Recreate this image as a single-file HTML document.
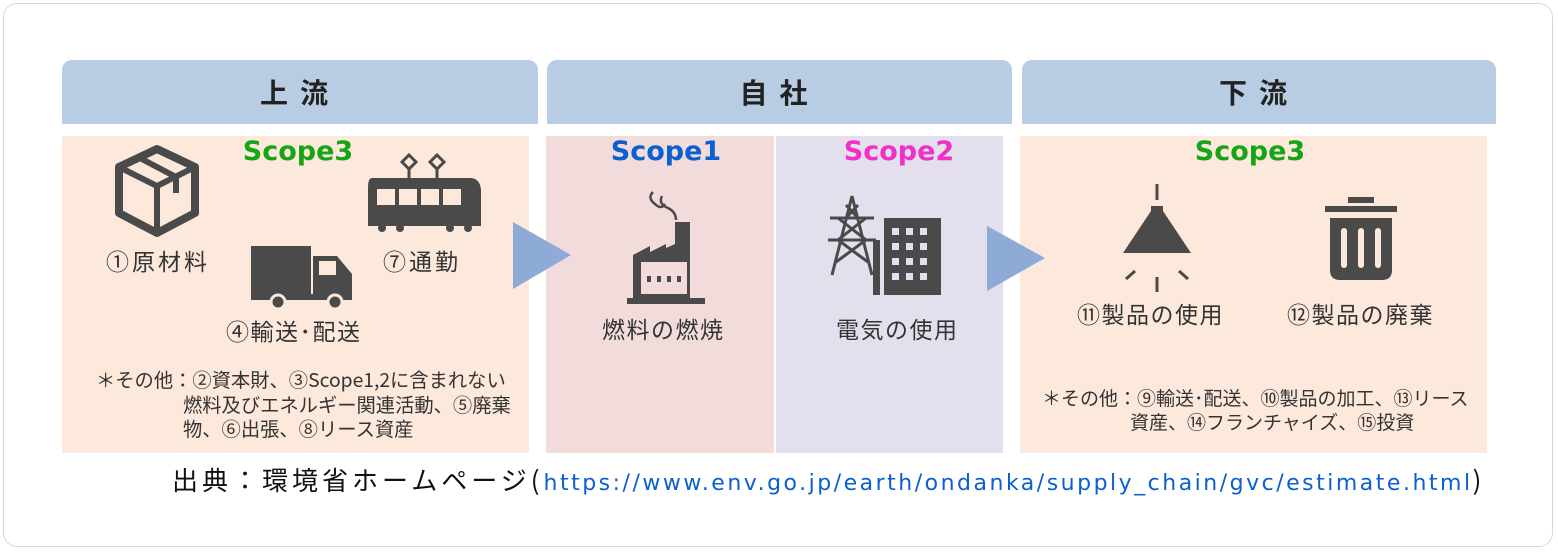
<!DOCTYPE html>
<html><head><meta charset="utf-8"><style>
body{margin:0;width:1558px;height:552px;background:#fff;position:relative;overflow:hidden;font-family:"Liberation Sans","Noto Sans CJK JP",sans-serif;}
.a{position:absolute}
.frame{left:3px;top:3px;width:1550px;height:544px;border:1px solid #d8d8d8;border-radius:14px;box-sizing:border-box}
.hd{background:#b8cce4;border-radius:10px 10px 0 0;font-size:28px;font-weight:bold;color:#222;text-align:center;line-height:64px;letter-spacing:12px;top:60px;height:64px;font-family:"Noto Sans CJK JP",sans-serif}
.sc{font-size:27px;font-weight:bold;text-align:center;font-family:"DejaVu Sans","Liberation Sans",sans-serif}
.lb{font-size:23px;letter-spacing:3px;color:#333;font-family:"Noto Sans CJK JP",sans-serif;white-space:nowrap}
.nt{font-size:19.3px;color:#333;font-family:"Noto Sans CJK JP",sans-serif;line-height:24px;white-space:nowrap}
</style></head><body>
<div class="a frame"></div>
<div class="a hd" style="left:62px;width:476px">上流</div>
<div class="a hd" style="left:547px;width:465px">自社</div>
<div class="a hd" style="left:1022px;width:474px">下流</div>

<div class="a" style="left:62px;top:136px;width:467px;height:317px;background:#fde9db"></div>
<div class="a" style="left:546px;top:136px;width:228px;height:317px;background:#f2dcdb"></div>
<div class="a" style="left:776px;top:136px;width:227px;height:317px;background:#e4dfec"></div>
<div class="a" style="left:1020px;top:136px;width:467px;height:317px;background:#fde9db"></div>

<svg class="a" style="left:0;top:0" width="1558" height="552">
<polygon points="513,222 513,289 571,255" fill="#8eaad6"/>
<polygon points="987,226 987,291 1045,258" fill="#8eaad6"/>
<g fill="#4a4a4a" stroke="#4a4a4a">
<polygon points="157,149 195,167 195,213 157,233 119,213 119,167" fill="none" stroke-width="8" stroke-linejoin="round"/>
<polyline points="119,167 157,186 195,167" fill="none" stroke-width="6"/>
<line x1="157" y1="186" x2="157" y2="233" stroke-width="6"/>
<polyline points="138,157 176,177 176,193" fill="none" stroke-width="6"/>
<path d="M372,178 H470 q10,0 11,12 V226 H368 V188 q0,-10 4,-10 Z" stroke="none"/>
<rect x="377" y="189" width="18" height="16" fill="#fde9db" stroke="none"/><rect x="399" y="189" width="18" height="16" fill="#fde9db" stroke="none"/><rect x="421" y="189" width="18" height="16" fill="#fde9db" stroke="none"/><rect x="443" y="189" width="18" height="16" fill="#fde9db" stroke="none"/>
<circle cx="382" cy="228" r="4" stroke="none"/><circle cx="400" cy="228" r="4" stroke="none"/><circle cx="450" cy="228" r="4" stroke="none"/><circle cx="468" cy="228" r="4" stroke="none"/>
<polygon points="409,155 416,162 409,169 402,162" fill="none" stroke-width="3"/><polygon points="437,155 444,162 437,169 430,162" fill="none" stroke-width="3"/>
<line x1="409" y1="169" x2="409" y2="178" stroke-width="3"/><line x1="437" y1="169" x2="437" y2="178" stroke-width="3"/>
<rect x="251" y="246" width="60" height="48" stroke="none"/>
<path d="M313,256 H337 L352,274 V298 H313 Z" stroke="none"/>
<rect x="319" y="261" width="17" height="14" fill="#fde9db" stroke="none"/>
<rect x="251" y="294" width="101" height="6" stroke="none"/>
<circle cx="278" cy="302" r="7" stroke="#fde9db" stroke-width="3"/><circle cx="335" cy="302" r="7" stroke="#fde9db" stroke-width="3"/>
<path d="M633,300 V255 L650,246 V252 L666,244 V248 L675,244 V222 H690 V300 Z" stroke="none"/>
<rect x="641" y="262" width="46" height="32" fill="#f2dcdb" stroke="none"/>
<g fill="#4a4a4a" stroke="none"><rect x="647" y="276" width="4" height="6"/><rect x="657" y="276" width="4" height="6"/><rect x="667" y="276" width="4" height="6"/><rect x="677" y="276" width="4" height="6"/></g>
<rect x="627" y="298" width="78" height="6" stroke="none"/>
<path d="M653,192 q-6,6 2,12 q6,6 10,0 M662,196 q-4,8 6,12 q8,4 8,12" fill="none" stroke-width="2.5"/>
<path d="M852,196 L832,275 M852,196 L872,275 M830,218 H874 M828,240 H876 M838,218 L866,240 L836,262 M866,218 L838,240 L868,262 M846,205 L858,218 M858,205 L846,218" fill="none" stroke-width="3"/>
<rect x="873" y="240" width="7" height="55" stroke="none"/>
<rect x="884" y="218" width="57" height="77" stroke="none"/>
<g fill="#e4dfec" stroke="none">
<rect x="892" y="228" width="7" height="7"/><rect x="906" y="228" width="7" height="7"/><rect x="920" y="228" width="7" height="7"/>
<rect x="892" y="243" width="7" height="7"/><rect x="906" y="243" width="7" height="7"/><rect x="920" y="243" width="7" height="7"/>
<rect x="892" y="258" width="7" height="7"/><rect x="906" y="258" width="7" height="7"/><rect x="920" y="258" width="7" height="7"/>
<rect x="892" y="273" width="7" height="7"/><rect x="906" y="273" width="7" height="7"/><rect x="920" y="273" width="7" height="7"/>
</g>
<line x1="1157" y1="184" x2="1157" y2="200" stroke-width="3"/>
<path d="M1151,211 H1163 L1191,253 H1123 Z" stroke="none"/>
<rect x="1151" y="206" width="12" height="8" stroke="none"/>
<path d="M1135,271 L1126,279 M1179,271 L1188,279 M1157,277 V292" stroke-width="3"/>
<rect x="1325" y="206" width="72" height="6" stroke="none"/>
<rect x="1348" y="197" width="26" height="6" stroke="none"/>
<path d="M1330,218 H1392 V270 q0,10 -10,10 H1340 q-10,0 -10,-10 Z" stroke="none"/>
<g fill="#fde9db" stroke="none"><rect x="1341" y="228" width="6" height="40" rx="3"/><rect x="1358" y="228" width="6" height="40" rx="3"/><rect x="1375" y="228" width="6" height="40" rx="3"/></g>
</g>
</svg>

<div class="a sc" style="left:198px;top:136px;width:200px;color:#16a516">Scope3</div>
<div class="a sc" style="left:566px;top:136px;width:200px;color:#0b5fd0">Scope1</div>
<div class="a sc" style="left:799px;top:136px;width:200px;color:#f030c8">Scope2</div>
<div class="a sc" style="left:1150px;top:136px;width:200px;color:#16a516">Scope3</div>

<div class="a lb" style="left:106px;top:243px">①原材料</div>
<div class="a lb" style="left:383px;top:243px">⑦通勤</div>
<div class="a lb" style="left:226px;top:313px;letter-spacing:1.5px">④輸送･配送</div>
<div class="a lb" style="left:602px;top:311px;letter-spacing:1.5px">燃料の燃焼</div>
<div class="a lb" style="left:836px;top:311px;letter-spacing:1.5px">電気の使用</div>
<div class="a lb" style="left:1077px;top:296px;letter-spacing:1.5px">⑪製品の使用</div>
<div class="a lb" style="left:1287px;top:296px;letter-spacing:1.5px">⑫製品の廃棄</div>

<div class="a nt" style="left:96px;top:367px">＊その他：②資本財、③Scope1,2に含まれない</div>
<div class="a nt" style="left:183px;top:392px">燃料及びエネルギー関連活動、⑤廃棄</div>
<div class="a nt" style="left:183px;top:416px">物、⑥出張、⑧リース資産</div>
<div class="a nt" style="left:1042px;top:386px;font-size:19px">＊その他：⑨輸送･配送、⑩製品の加工、⑬リース</div>
<div class="a nt" style="left:1130px;top:410px;font-size:19px">資産、⑭フランチャイズ、⑮投資</div>

<div class="a" style="left:172px;top:461px;font-size:26px;letter-spacing:4px;white-space:nowrap;color:#111;font-family:'Noto Sans CJK JP',sans-serif">出典：環境省ホームページ(<span style="color:#0b5fd0;font-family:'DejaVu Sans',sans-serif;font-size:22px;letter-spacing:2.5px">https://www.env.go.jp/earth/ondanka/supply_chain/gvc/estimate.html</span>)</div>
</body></html>
